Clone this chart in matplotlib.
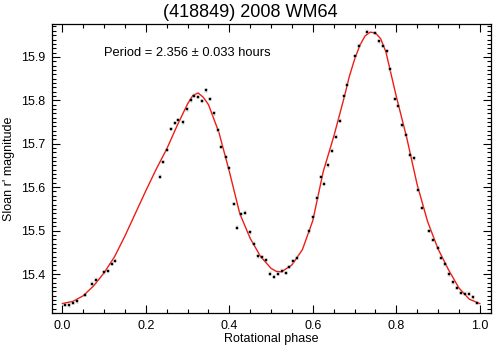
"""Rotational light curve of (418849) 2008 WM64, folded on the 2.356 h period."""

import matplotlib

matplotlib.use("Agg")
import matplotlib.pyplot as plt
from matplotlib.ticker import MultipleLocator

plt.rcParams["font.family"] = ["Liberation Sans", "DejaVu Sans"]

# observed points, folded on the period
phase = [
    0.006, 0.016, 0.026, 0.035, 0.053, 0.071, 0.080, 0.100, 0.109, 0.119,
    0.127, 0.233, 0.241, 0.250, 0.261, 0.270, 0.278, 0.288, 0.298, 0.307,
    0.316, 0.326, 0.335, 0.345, 0.353, 0.364, 0.373, 0.381, 0.392, 0.400,
    0.410, 0.419, 0.429, 0.438, 0.450, 0.460, 0.469, 0.478, 0.488, 0.497,
    0.506, 0.516, 0.525, 0.535, 0.544, 0.552, 0.562, 0.591, 0.600, 0.609,
    0.619, 0.628, 0.637, 0.646, 0.655, 0.664, 0.674, 0.683, 0.702, 0.711,
    0.731, 0.749, 0.759, 0.768, 0.777, 0.786, 0.796, 0.804, 0.814, 0.824,
    0.834, 0.843, 0.852, 0.861, 0.879, 0.888, 0.899, 0.907, 0.917, 0.927,
    0.936, 0.945, 0.955, 0.964, 0.974, 0.983, 0.993,
]
mag = [
    15.329, 15.328, 15.334, 15.337, 15.352, 15.378, 15.387, 15.404, 15.407, 15.424,
    15.431, 15.624, 15.658, 15.686, 15.734, 15.748, 15.755, 15.749, 15.779, 15.800,
    15.811, 15.808, 15.798, 15.823, 15.803, 15.770, 15.731, 15.693, 15.669, 15.643,
    15.561, 15.507, 15.538, 15.541, 15.496, 15.470, 15.441, 15.439, 15.432, 15.401,
    15.394, 15.400, 15.408, 15.402, 15.416, 15.429, 15.438, 15.498, 15.531, 15.576,
    15.623, 15.608, 15.650, 15.684, 15.716, 15.753, 15.809, 15.836, 15.901, 15.926,
    15.958, 15.955, 15.936, 15.925, 15.913, 15.871, 15.803, 15.787, 15.742, 15.720,
    15.674, 15.666, 15.594, 15.552, 15.499, 15.479, 15.461, 15.437, 15.422, 15.399,
    15.381, 15.368, 15.356, 15.355, 15.355, 15.346, 15.333,
]
mag_err = 0.003

# fitted light curve
fit_phase = [
    0.000, 0.025, 0.050, 0.075, 0.100, 0.125, 0.150, 0.175, 0.200, 0.225,
    0.250, 0.275, 0.300, 0.3125, 0.325, 0.3375, 0.350, 0.375, 0.400, 0.425,
    0.450, 0.475, 0.500, 0.5125, 0.525, 0.550, 0.575, 0.600, 0.625, 0.650,
    0.675, 0.6875, 0.700, 0.7125, 0.725, 0.7375, 0.750, 0.7625, 0.775, 0.800,
    0.825, 0.850, 0.875, 0.900, 0.925, 0.950, 0.975, 1.000,
]
fit_mag = [
    15.332, 15.337, 15.350, 15.373, 15.403, 15.440, 15.488, 15.540, 15.592, 15.642,
    15.688, 15.742, 15.792, 15.811, 15.817, 15.807, 15.790, 15.726, 15.636, 15.539,
    15.482, 15.440, 15.413, 15.406, 15.405, 15.421, 15.456, 15.523, 15.636, 15.716,
    15.806, 15.855, 15.894, 15.926, 15.948, 15.957, 15.955, 15.942, 15.912, 15.809,
    15.714, 15.606, 15.521, 15.458, 15.410, 15.368, 15.342, 15.332,
]

title = "(418849) 2008 WM64"
period_text = "Period = 2.356 \u00b1 0.033 hours"


def main() -> None:
    fig = plt.figure(figsize=(5.0, 3.51), dpi=100)
    ax = fig.add_axes([0.104, 0.108, 0.878, 0.824])

    ax.plot(fit_phase, fit_mag, color="#ee1c14", lw=1.0, zorder=2)
    ax.errorbar(phase, mag, yerr=mag_err, fmt="s", ms=1.9, mfc="black",
                mec="black", mew=0.3, ecolor="#b8b8b8", elinewidth=0.5,
                capsize=1.5, capthick=0.5, zorder=3)

    ax.set_xlim(-0.025, 1.027)
    ax.set_ylim(15.31, 15.976)
    ax.xaxis.set_major_locator(MultipleLocator(0.2))
    ax.xaxis.set_minor_locator(MultipleLocator(0.05))
    ax.yaxis.set_major_locator(MultipleLocator(0.1))
    ax.yaxis.set_minor_locator(MultipleLocator(0.01))
    ax.xaxis.set_major_formatter(plt.FormatStrFormatter("%.1f"))
    ax.yaxis.set_major_formatter(plt.FormatStrFormatter("%.1f"))
    ax.tick_params(which="both", direction="in", top=True, right=True,
                   labelsize=9, width=0.8, colors="black")
    ax.tick_params(which="major", length=5.5, pad=5)
    ax.tick_params(which="minor", length=2.6)
    for sp in ax.spines.values():
        sp.set_linewidth(0.9)

    # title is centred on the whole figure, not on the axes
    fig.text(0.5, 0.965, title, fontsize=13, ha="center", va="center")
    ax.set_xlabel("Rotational phase", fontsize=9, labelpad=1)
    ax.set_ylabel("Sloan r' magnitude", fontsize=9, labelpad=4)
    ax.text(0.10, 15.909, period_text, fontsize=9.3, ha="left", va="center")

    fig.savefig("out.png", dpi=100)
    plt.close(fig)


if __name__ == "__main__":
    main()
